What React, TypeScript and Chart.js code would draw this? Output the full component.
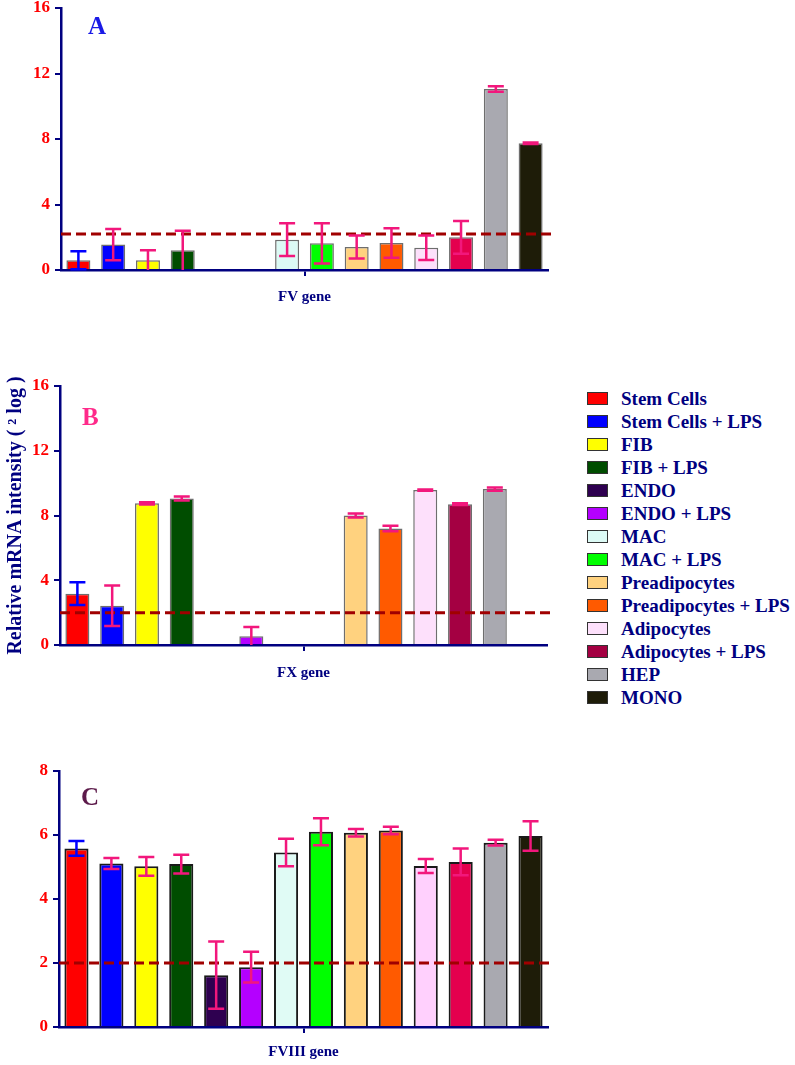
import React, { useEffect, useRef } from "react";
import { Chart, registerables } from "chart.js";

Chart.register(...registerables);

// ---------- data ----------
const categories = [
  "Stem Cells",
  "Stem Cells + LPS",
  "FIB",
  "FIB + LPS",
  "ENDO",
  "ENDO + LPS",
  "MAC",
  "MAC + LPS",
  "Preadipocytes",
  "Preadipocytes + LPS",
  "Adipocytes",
  "Adipocytes + LPS",
  "HEP",
  "MONO",
];

const fvValues = [0.6, 1.55, 0.6, 1.2, 0, 0, 1.85, 1.63, 1.4, 1.65, 1.36, 2.0, 11.05, 7.74];
const fvErrors = [0.55, 0.95, 0.6, 1.2, 0, 0, 1.0, 1.23, 0.7, 0.9, 0.75, 1.0, 0.17, 0.05];
const fvThreshold = 2.2;

const fxValues = [3.17, 2.43, 8.75, 9.05, 0, 0.54, 0, 0, 8.0, 7.2, 9.57, 8.7, 9.63, 0];
const fxErrors = [0.7, 1.25, 0.07, 0.12, 0, 0.57, 0, 0, 0.12, 0.17, 0.04, 0.05, 0.1, 0];
const fxThreshold = 2.0;

const f8Values = [5.58, 5.11, 5.02, 5.09, 1.62, 1.87, 5.45, 6.1, 6.07, 6.14, 5.03, 5.16, 5.76, 5.97];
const f8Errors = [0.23, 0.17, 0.29, 0.29, 1.05, 0.48, 0.43, 0.42, 0.12, 0.12, 0.22, 0.42, 0.09, 0.46];
const f8Threshold = 2.0;

const yMaxFV = 16;
const yStepFV = 4;
const yMaxFX = 16;
const yStepFX = 4;
const yMaxF8 = 8;
const yStepF8 = 2;

const xTitleFV = "FV gene";
const xTitleFX = "FX gene";
const xTitleF8 = "FVIII gene";
const yTitle = "Relative mRNA intensity ( ² log )";

// ---------- styles ----------
const NAVY = "#000080";
const SERIF = "'Liberation Serif', 'Times New Roman', serif";
const PINK = "#f2177c";

const colorsA = [
  "#ff0000", "#0000ff", "#ffff00", "#004d00", "#2e0050", "#b400ff", "#dcfaf5",
  "#00ff00", "#ffd27f", "#ff5a00", "#fde0fb", "#e4004e", "#a9a9b0", "#1e1c08",
];
const colorsB = [
  "#ff0000", "#0000ff", "#ffff00", "#004d00", "#2e0050", "#b400ff", "#dcfaf5",
  "#00ff00", "#ffd27f", "#ff5a00", "#fde0fb", "#a40042", "#a9a9b0", "#1e1c08",
];
const colorsC = [
  "#ff0000", "#0000ff", "#ffff00", "#004d00", "#2e0050", "#b400ff", "#e0fbf5",
  "#00ff00", "#ffd27f", "#ff5a00", "#ffd0fd", "#e4004e", "#a9a9b0", "#1e1c08",
];
const legendColors = colorsB;
const errColors = categories.map((_, i) => (i === 0 ? "#0000ff" : PINK));

function makeErrorPlugin(errors: number[], threshold: number) {
  return {
    id: "errorBars",
    afterDatasetsDraw(chart: any) {
      const { ctx, chartArea } = chart;
      const y = chart.scales.y;
      ctx.save();
      // threshold line
      const ty = y.getPixelForValue(threshold);
      ctx.strokeStyle = "#a00000";
      ctx.lineWidth = 3;
      ctx.setLineDash([10, 5]);
      ctx.beginPath();
      ctx.moveTo(chartArea.left, ty);
      ctx.lineTo(chartArea.right + 3, ty);
      ctx.stroke();
      ctx.setLineDash([]);
      // error bars
      const meta = chart.getDatasetMeta(0);
      const data = chart.data.datasets[0].data as number[];
      meta.data.forEach((bar: any, i: number) => {
        const v = data[i];
        const e = errors[i];
        if (!e) return;
        const x = bar.x;
        const yT = y.getPixelForValue(v + e);
        const lo = Math.max(0, v - e);
        const yB = y.getPixelForValue(lo);
        ctx.strokeStyle = errColors[i];
        ctx.lineWidth = 2.5;
        ctx.beginPath();
        ctx.moveTo(x, yT);
        ctx.lineTo(x, yB);
        ctx.moveTo(x - 8, yT);
        ctx.lineTo(x + 8, yT);
        if (lo > 0) {
          ctx.moveTo(x - 8, yB);
          ctx.lineTo(x + 8, yB);
        }
        ctx.stroke();
      });
      ctx.restore();
    },
  };
}

type PanelProps = {
  values: number[];
  errors: number[];
  colors: string[];
  threshold: number;
  yMax: number;
  yStep: number;
  xTitle: string;
  showYTitle?: boolean;
  borderColor: string;
  borderWidth: number;
  left: number;
  top: number;
  width: number;
  height: number;
  padTop: number;
  padRight: number;
  axisWidth: number;
  xHeight: number;
};

function Panel(p: PanelProps) {
  const ref = useRef<HTMLCanvasElement>(null);
  useEffect(() => {
    const chart = new Chart(ref.current!, {
      type: "bar",
      data: {
        labels: categories,
        datasets: [
          {
            data: p.values,
            backgroundColor: p.colors,
            borderColor: p.borderColor,
            borderWidth: p.borderWidth,
            barPercentage: 0.69,
            categoryPercentage: 1,
          },
        ],
      },
      options: {
        animation: false,
        responsive: false,
        maintainAspectRatio: false,
        layout: { padding: { left: 0, top: p.padTop, right: p.padRight, bottom: 0 } },
        plugins: { legend: { display: false }, tooltip: { enabled: false } },
        scales: {
          x: {
            type: "category",
            offset: true,
            z: 1,
            ticks: { display: false },
            grid: {
              display: true,
              offset: true,
              drawOnChartArea: false,
              drawTicks: true,
              tickLength: 6,
              lineWidth: 2,
              color: (ctx: any) => (ctx.index === 7 ? NAVY : "rgba(0,0,0,0)"),
            },
            border: { display: true, color: NAVY, width: 2.5 },
            title: {
              display: true,
              text: p.xTitle,
              color: NAVY,
              font: { family: SERIF, weight: "bold", size: 15 },
              padding: { top: 0, bottom: 4 },
            },
            afterFit: (s: any) => {
              s.height = p.xHeight;
              s.paddingLeft = 0;
              s.paddingRight = 0;
            },
          },
          y: {
            min: 0,
            max: p.yMax,
            ticks: {
              stepSize: p.yStep,
              color: "#ff0000",
              padding: 5,
              font: { family: SERIF, weight: "bold", size: 17 },
            },
            grid: {
              display: true,
              drawOnChartArea: false,
              drawTicks: true,
              tickLength: 6,
              lineWidth: 2,
              color: NAVY,
            },
            border: { display: true, color: NAVY, width: 2.5 },
            title: {
              display: !!p.showYTitle,
              text: yTitle,
              color: NAVY,
              font: { family: SERIF, weight: "bold", size: 20 },
              padding: { top: 4, bottom: 0 },
            },
            afterFit: (s: any) => {
              s.width = p.axisWidth;
              s.paddingTop = 0;
              s.paddingBottom = 0;
            },
          },
        },
      } as any,
      plugins: [makeErrorPlugin(p.errors, p.threshold)],
    });
    return () => chart.destroy();
  }, []);
  return (
    <canvas
      ref={ref}
      width={p.width}
      height={p.height}
      style={{ position: "absolute", left: p.left, top: p.top, width: p.width, height: p.height }}
    />
  );
}

const letterStyle = (left: number, top: number, color: string): React.CSSProperties => ({
  position: "absolute",
  left,
  top,
  fontFamily: SERIF,
  fontWeight: "bold",
  fontSize: 25,
  lineHeight: "25px",
  color,
});

export default function App() {
  return (
    <div
      style={{
        position: "absolute",
        left: 0,
        top: 0,
        width: 795,
        height: 1065,
        overflow: "hidden",
        background: "#ffffff",
      }}
    >
      <Panel
        values={fvValues}
        errors={fvErrors}
        colors={colorsA}
        threshold={fvThreshold}
        yMax={yMaxFV}
        yStep={yStepFV}
        xTitle={xTitleFV}
        borderColor="#6e6e6e"
        borderWidth={1.5}
        left={0}
        top={0}
        width={560}
        height={310}
        padTop={8}
        padRight={12}
        axisWidth={61}
        xHeight={40}
      />
      <Panel
        values={fxValues}
        errors={fxErrors}
        colors={colorsB}
        threshold={fxThreshold}
        yMax={yMaxFX}
        yStep={yStepFX}
        xTitle={xTitleFX}
        showYTitle
        borderColor="#6e6e6e"
        borderWidth={1.5}
        left={0}
        top={370}
        width={560}
        height={316}
        padTop={16}
        padRight={13}
        axisWidth={60}
        xHeight={41}
      />
      <Panel
        values={f8Values}
        errors={f8Errors}
        colors={colorsC}
        threshold={f8Threshold}
        yMax={yMaxF8}
        yStep={yStepF8}
        xTitle={xTitleF8}
        borderColor="#1a1a1a"
        borderWidth={2}
        left={0}
        top={760}
        width={560}
        height={305}
        padTop={11}
        padRight={12}
        axisWidth={59}
        xHeight={38}
      />
      <div style={letterStyle(88, 13, "#1a1ae6")}>A</div>
      <div style={letterStyle(82, 404, "#ff2a8a")}>B</div>
      <div style={letterStyle(81, 784, "#5c1a4a")}>C</div>
      <div style={{ position: "absolute", left: 587, top: 387 }}>
        {categories.map((name, i) => (
          <div
            key={name}
            style={{
              position: "relative",
              height: 23,
              whiteSpace: "nowrap",
            }}
          >
            <div
              style={{
                position: "absolute",
                left: 0,
                top: 5,
                width: 19,
                height: 11,
                background: legendColors[i],
                border: "1.5px solid #333333",
              }}
            />
            <div
              style={{
                position: "absolute",
                left: 34,
                top: 0,
                fontFamily: SERIF,
                fontWeight: "bold",
                fontSize: 19,
                lineHeight: "23px",
                color: NAVY,
              }}
            >
              {name}
            </div>
          </div>
        ))}
      </div>
    </div>
  );
}
